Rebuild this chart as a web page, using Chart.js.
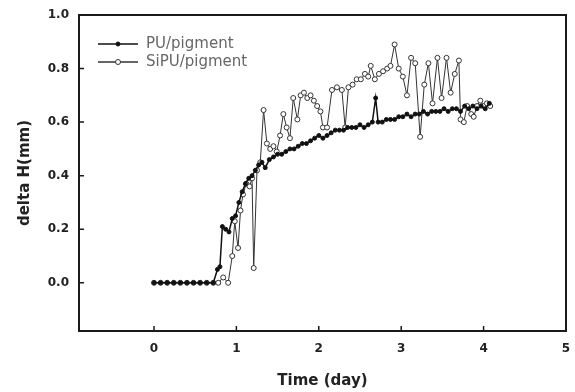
<!DOCTYPE html>
<html>
<head>
<meta charset="utf-8">
<script src="https://cdn.jsdelivr.net/npm/chart.js@4"></script>
<style>
  body { margin: 0; background: #fff; }
  canvas { display: block; }
</style>
</head>
<body>
<canvas id="chart" width="575" height="392"></canvas>
<script>
// PU/pigment
const puTime = [0, 0.08, 0.16, 0.24, 0.32, 0.40, 0.48, 0.56, 0.64, 0.72, 0.77, 0.80, 0.83, 0.87, 0.91, 0.95, 0.99,
    1.03, 1.07, 1.11, 1.15, 1.19, 1.23, 1.27, 1.31, 1.35, 1.40, 1.45, 1.50, 1.55, 1.60, 1.65, 1.70, 1.75, 1.80,
    1.85, 1.90, 1.95, 2.00, 2.05, 2.10, 2.15, 2.20, 2.25, 2.30, 2.35, 2.40, 2.45, 2.50, 2.55, 2.60, 2.65, 2.69,
    2.72, 2.77, 2.82, 2.87, 2.92, 2.97, 3.02, 3.07, 3.12, 3.17, 3.22, 3.27, 3.32, 3.37, 3.42, 3.47, 3.52, 3.57,
    3.62, 3.67, 3.72, 3.77, 3.82, 3.87, 3.92, 3.97, 4.02, 4.07]
const puValues = [0, 0, 0, 0, 0, 0, 0, 0, 0, 0, 0.05, 0.06, 0.21, 0.20, 0.19, 0.24, 0.25,
    0.30, 0.34, 0.37, 0.39, 0.40, 0.42, 0.44, 0.45, 0.43, 0.46, 0.47, 0.48, 0.48, 0.49, 0.50, 0.50, 0.51, 0.52,
    0.52, 0.53, 0.54, 0.55, 0.54, 0.55, 0.56, 0.57, 0.57, 0.57, 0.58, 0.58, 0.58, 0.59, 0.58, 0.59, 0.60, 0.69,
    0.60, 0.60, 0.61, 0.61, 0.61, 0.62, 0.62, 0.63, 0.62, 0.63, 0.63, 0.64, 0.63, 0.64, 0.64, 0.64, 0.65, 0.64,
    0.65, 0.65, 0.64, 0.66, 0.65, 0.66, 0.65, 0.66, 0.65, 0.67]

// SiPU/pigment
const sipuTime = [0, 0.08, 0.16, 0.24, 0.32, 0.40, 0.48, 0.56, 0.64, 0.72, 0.78, 0.84, 0.90, 0.95, 0.98,
    1.02, 1.05, 1.08, 1.12, 1.16, 1.19, 1.21, 1.25, 1.29, 1.33, 1.37, 1.41, 1.45, 1.49, 1.53, 1.57, 1.61, 1.65,
    1.69, 1.74, 1.78, 1.82, 1.86, 1.90, 1.94, 1.98, 2.02, 2.05, 2.10, 2.16, 2.22, 2.28, 2.32, 2.36, 2.41, 2.46,
    2.51, 2.56, 2.60, 2.63, 2.68, 2.73, 2.78, 2.83, 2.87, 2.92, 2.97, 3.02, 3.07, 3.12, 3.17, 3.23, 3.28, 3.33,
    3.38, 3.44, 3.49, 3.55, 3.60, 3.65, 3.70, 3.72, 3.76, 3.80, 3.85, 3.88, 3.92, 3.96, 4.00, 4.04, 4.08]
const sipuValues = [0, 0, 0, 0, 0, 0, 0, 0, 0, 0, 0, 0.02, 0, 0.10, 0.23,
    0.13, 0.27, 0.33, 0.37, 0.36, 0.39, 0.055, 0.42, 0.45, 0.645, 0.52, 0.50, 0.51, 0.49, 0.55, 0.63, 0.58, 0.54,
    0.69, 0.61, 0.70, 0.71, 0.69, 0.70, 0.68, 0.66, 0.64, 0.58, 0.58, 0.72, 0.73, 0.72, 0.58, 0.73, 0.74, 0.76,
    0.76, 0.78, 0.77, 0.81, 0.76, 0.78, 0.79, 0.80, 0.81, 0.89, 0.80, 0.77, 0.70, 0.84, 0.82, 0.545, 0.74, 0.82,
    0.67, 0.84, 0.69, 0.84, 0.71, 0.78, 0.83, 0.61, 0.60, 0.66, 0.63, 0.62, 0.66, 0.68, 0.66, 0.67, 0.66]

const xTicks = [0, 1, 2, 3, 4, 5]
const yTicks = [0, 0.2, 0.4, 0.6, 0.8, 1.0]

const toPoints = (xs, ys) => xs.map((x, i) => ({ x: x, y: ys[i] }))
const fontName = "'DejaVu Sans', Verdana, sans-serif"

// box round the plot, inward tick marks and the legend inside the plot
const framePlugin = {
    id: 'frame',
    afterDraw(chart) {
        const ctx = chart.ctx
        const a = chart.chartArea
        const xs = chart.scales.x
        const ys = chart.scales.y
        ctx.save()
        ctx.strokeStyle = '#1a1a1a'
        ctx.lineWidth = 1.5
        ctx.beginPath()
        xTicks.forEach(t => {
            const px = xs.getPixelForValue(t)
            ctx.moveTo(px, a.bottom)
            ctx.lineTo(px, a.bottom - 5)
        })
        yTicks.forEach(t => {
            const py = ys.getPixelForValue(t)
            ctx.moveTo(a.left, py)
            ctx.lineTo(a.left + 5, py)
        })
        ctx.stroke()
        ctx.lineWidth = 2
        ctx.strokeRect(a.left, a.top, a.right - a.left, a.bottom - a.top)

        // legend
        chart.data.datasets.forEach((ds, i) => {
            const y = 44 + i * 18
            ctx.strokeStyle = ds.borderColor
            ctx.lineWidth = 1.5
            ctx.beginPath()
            ctx.moveTo(98, y)
            ctx.lineTo(138, y)
            ctx.stroke()
            ctx.beginPath()
            ctx.arc(118, y, ds.pointRadius, 0, Math.PI * 2)
            ctx.fillStyle = ds.pointBackgroundColor
            ctx.fill()
            ctx.lineWidth = 1
            ctx.strokeStyle = ds.pointBorderColor
            ctx.stroke()
            ctx.fillStyle = '#666'
            ctx.font = '15px ' + fontName
            ctx.textBaseline = 'middle'
            ctx.fillText(ds.label, 146, y)
        })
        ctx.restore()
    }
}

const config = {
    type: 'line',
    data: {
        datasets: [
            {
                label: 'PU/pigment',
                data: toPoints(puTime, puValues),
                borderColor: '#111',
                borderWidth: 1.5,
                pointRadius: 2,
                pointBackgroundColor: '#111',
                pointBorderColor: '#111',
                pointBorderWidth: 1
            },
            {
                label: 'SiPU/pigment',
                data: toPoints(sipuTime, sipuValues),
                borderColor: '#333',
                borderWidth: 1,
                pointRadius: 2.5,
                pointBackgroundColor: '#fff',
                pointBorderColor: '#333',
                pointBorderWidth: 1
            }
        ]
    },
    options: {
        responsive: false,
        animation: false,
        layout: { padding: { top: 15, right: 9, left: 0, bottom: 0 } },
        scales: {
            x: {
                type: 'linear',
                min: -0.91,
                max: 5,
                afterFit: scale => {
                    scale.height = 61
                    scale.paddingLeft = 0
                    scale.paddingRight = 0
                },
                afterBuildTicks: scale => { scale.ticks = xTicks.map(v => ({ value: v })) },
                grid: { drawOnChartArea: false, drawTicks: false },
                border: { display: false },
                ticks: {
                    padding: 11,
                    color: '#222',
                    font: { family: fontName, size: 12, weight: 'bold' }
                },
                title: {
                    display: true,
                    text: 'Time (day)',
                    color: '#222',
                    padding: { top: 0, bottom: 2 },
                    font: { family: fontName, size: 15, weight: 'bold' }
                }
            },
            y: {
                min: -0.18,
                max: 1.0,
                afterFit: scale => {
                    scale.width = 79
                    scale.paddingTop = 0
                    scale.paddingBottom = 0
                },
                afterBuildTicks: scale => { scale.ticks = yTicks.map(v => ({ value: v })) },
                grid: { drawOnChartArea: false, drawTicks: false },
                border: { display: false },
                ticks: {
                    padding: 10,
                    color: '#222',
                    callback: v => v.toFixed(1),
                    font: { family: fontName, size: 12, weight: 'bold' }
                },
                title: {
                    display: true,
                    text: 'delta H(mm)',
                    color: '#222',
                    padding: { top: 16, bottom: 0 },
                    font: { family: fontName, size: 15, weight: 'bold' }
                }
            }
        },
        plugins: {
            legend: { display: false },
            tooltip: { enabled: false }
        }
    },
    plugins: [framePlugin]
}

const myChart = new Chart(document.getElementById('chart'), config)
</script>
</body>
</html>
